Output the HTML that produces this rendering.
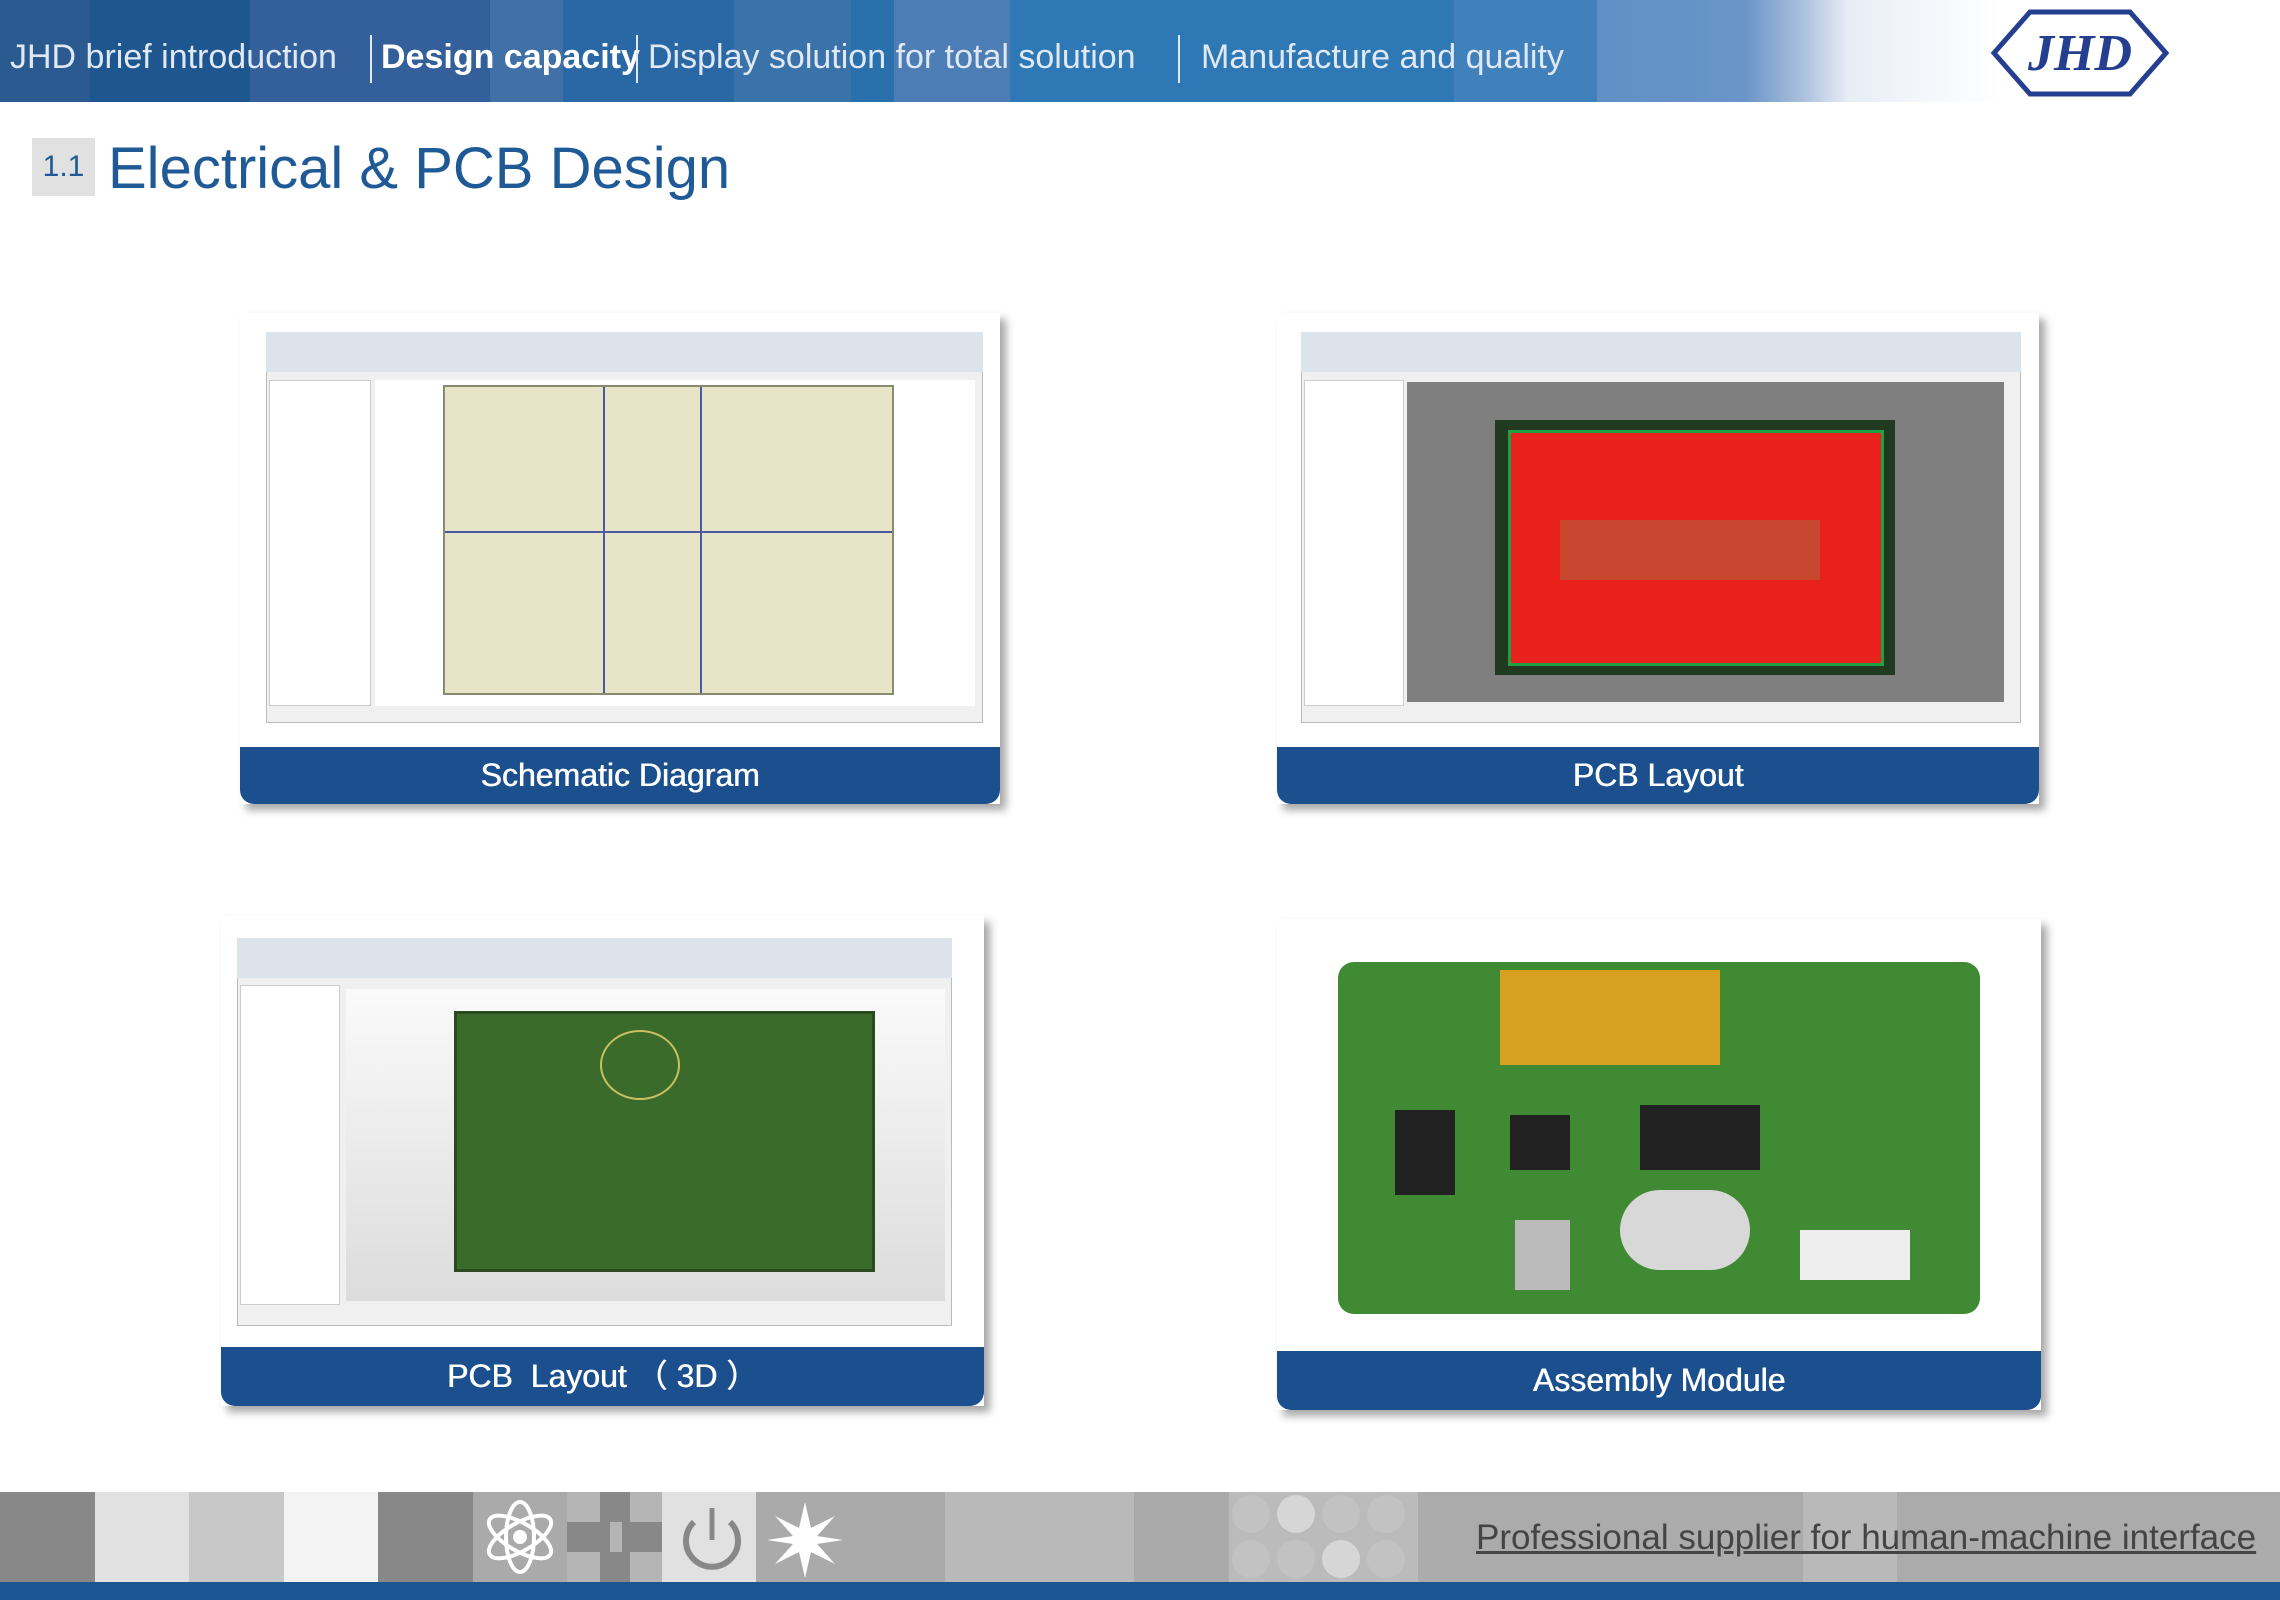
<!DOCTYPE html>
<html><head><meta charset="utf-8"><style>
*{margin:0;padding:0;box-sizing:border-box}
body{width:2280px;height:1600px;position:relative;overflow:hidden;background:#fff;font-family:"Liberation Sans",sans-serif}
.a{position:absolute}
.hdr{left:0;top:0;width:2280px;height:102px;background:linear-gradient(90deg,#2a5a90 0,#2a5a90 90px,#1e5690 90px,#1e5690 250px,#33609a 250px,#33609a 490px,#4070a5 490px,#4070a5 563px,#2a68a5 563px,#2a68a5 734px,#3a72aa 734px,#3a72aa 851px,#2a70ac 851px,#2a70ac 894px,#4c7db5 894px,#4c7db5 1010px,#2e78b5 1010px,#2e78b5 1454px,#4080bb 1454px,#4080bb 1597px,#6090c5 1597px,#6a95c8 1745px,#a8bedd 1800px,#e8eef6 1850px,#fff 2000px)}
.nav{top:38px;color:#dfe8f3;font-size:34px;white-space:nowrap}
.sep{top:35px;width:2px;height:48px;background:#dfe8f3}
.card{background:#fff;box-shadow:6px 6px 8px rgba(0,0,0,.35)}
.lbl{background:#1b4f8e;color:#fff;font-size:32px;text-align:center;border-radius:0 0 14px 14px;border-top:2px solid #fff;text-shadow:0.6px 0 0 #fff}
.win{background:#f0f0f0;border:1px solid #bbb}
</style></head><body>
<div class="a hdr"></div>
<div class="a nav" style="left:10px">JHD brief introduction</div>
<div class="a sep" style="left:370px"></div>
<div class="a nav" style="left:381px;color:#fff;font-weight:bold">Design capacity</div>
<div class="a sep" style="left:636px"></div>
<div class="a nav" style="left:648px">Display solution for total solution</div>
<div class="a sep" style="left:1178px"></div>
<div class="a nav" style="left:1201px">Manufacture and quality</div>
<svg class="a" style="left:1990px;top:8px" width="180" height="90" viewBox="0 0 180 90">
<polygon points="40,4 140,4 176,45 140,86 40,86 4,45" fill="none" stroke="#243f8f" stroke-width="5"/>
<text x="90" y="62" font-family="Liberation Serif" font-style="italic" font-weight="bold" font-size="52" fill="#243f8f" text-anchor="middle">JHD</text>
</svg>
<div class="a" style="left:32px;top:138px;width:63px;height:58px;background:#e0e1e0;color:#1f5a96;font-size:30px;text-align:center;line-height:58px">1.1</div>
<div class="a" style="left:108px;top:135px;color:#1f5a96;font-size:58px">Electrical &amp; PCB Design</div>

<!-- Card 1 -->
<div class="a card" style="left:240px;top:313px;width:760px;height:491px"></div>
<div class="a win" style="left:266px;top:332px;width:717px;height:391px"></div>
<div class="a" style="left:266px;top:332px;width:717px;height:40px;background:#dde3ea"></div>
<div class="a" style="left:269px;top:380px;width:102px;height:326px;background:#fff;border:1px solid #ccc"></div>
<div class="a" style="left:375px;top:380px;width:600px;height:326px;background:#fff"></div>
<div class="a" style="left:443px;top:385px;width:451px;height:310px;background:#e7e4c8;border:2px solid #8a8a70;background-image:linear-gradient(90deg,transparent 158px,#4a5aa0 158px,#4a5aa0 160px,transparent 160px,transparent 255px,#4a5aa0 255px,#4a5aa0 257px,transparent 257px),linear-gradient(0deg,transparent 160px,#4a5aa0 160px,#4a5aa0 162px,transparent 162px)"></div>
<div class="a lbl" style="left:240px;top:745px;width:760px;height:59px;line-height:56px">Schematic Diagram</div>

<!-- Card 2 -->
<div class="a card" style="left:1277px;top:313px;width:762px;height:491px"></div>
<div class="a win" style="left:1301px;top:332px;width:720px;height:391px"></div>
<div class="a" style="left:1301px;top:332px;width:720px;height:40px;background:#dde3ea"></div>
<div class="a" style="left:1304px;top:380px;width:100px;height:326px;background:#fff;border:1px solid #ccc"></div>
<div class="a" style="left:1407px;top:382px;width:597px;height:320px;background:#7f7f7f"></div>
<div class="a" style="left:1495px;top:420px;width:400px;height:255px;background:#1f3a1f"></div>
<div class="a" style="left:1508px;top:430px;width:376px;height:236px;background:#e8211c;border:3px solid #20a040"></div>
<div class="a" style="left:1560px;top:520px;width:260px;height:60px;background:#b06040;opacity:.6"></div>
<div class="a lbl" style="left:1277px;top:745px;width:762px;height:59px;line-height:56px">PCB Layout</div>

<!-- Card 3 -->
<div class="a card" style="left:221px;top:916px;width:763px;height:490px"></div>
<div class="a win" style="left:237px;top:938px;width:715px;height:388px"></div>
<div class="a" style="left:237px;top:938px;width:715px;height:40px;background:#dde3ea"></div>
<div class="a" style="left:240px;top:985px;width:100px;height:320px;background:#fff;border:1px solid #ccc"></div>
<div class="a" style="left:346px;top:989px;width:599px;height:312px;background:linear-gradient(#fafafa,#dcdcdc)"></div>
<div class="a" style="left:454px;top:1011px;width:421px;height:261px;background:#3b6b2a;border:3px solid #2a4a20"></div>
<div class="a" style="left:600px;top:1030px;width:80px;height:70px;border:2px solid #c8c060;border-radius:50%"></div>
<div class="a lbl" style="left:221px;top:1345px;width:763px;height:61px;line-height:58px">PCB&nbsp; Layout （ 3D ）</div>

<!-- Card 4 -->
<div class="a card" style="left:1277px;top:919px;width:764px;height:491px"></div>
<div class="a" style="left:1338px;top:962px;width:642px;height:352px;background:#3f8a32;border-radius:16px"></div>
<div class="a" style="left:1500px;top:970px;width:220px;height:95px;background:#d8a020"></div>
<div class="a" style="left:1395px;top:1110px;width:60px;height:85px;background:#222"></div>
<div class="a" style="left:1510px;top:1115px;width:60px;height:55px;background:#222"></div>
<div class="a" style="left:1640px;top:1105px;width:120px;height:65px;background:#222"></div>
<div class="a" style="left:1620px;top:1190px;width:130px;height:80px;background:#d8d8d8;border-radius:40px"></div>
<div class="a" style="left:1515px;top:1220px;width:55px;height:70px;background:#bbb"></div>
<div class="a" style="left:1800px;top:1230px;width:110px;height:50px;background:#eee"></div>
<div class="a lbl" style="left:1277px;top:1349px;width:764px;height:61px;line-height:58px">Assembly Module</div>

<!-- Footer -->
<div class="a" style="left:0;top:1492px;width:2280px;height:90px;background:linear-gradient(90deg,#888 0,#888 95px,#e0e1e0 95px,#e0e1e0 189px,#c8c8c8 189px,#c8c8c8 284px,#f2f3f2 284px,#f2f3f2 378px,#878887 378px,#878887 473px,#a9aaa9 473px,#a9aaa9 567px,#b5b5b5 567px,#b5b5b5 662px,#e0e1e0 662px,#e0e1e0 756px,#aaa 756px,#aaa 945px,#b9b9b9 945px,#b9b9b9 1134px,#aaa 1134px,#aaa 1229px,#bbb 1229px,#bbb 1418px,#aaabaa 1418px,#aaabaa 1803px,#b9b9b9 1803px,#b9b9b9 1897px,#aaabaa 1897px)"></div>
<div class="a" style="left:600px;top:1492px;width:30px;height:90px;background:#888"></div>
<div class="a" style="left:567px;top:1522px;width:95px;height:30px;background:#888"></div>
<div class="a" style="left:610px;top:1522px;width:12px;height:30px;background:#b5b5b5"></div>
<svg class="a" style="left:480px;top:1497px" width="80" height="80"><g fill="none" stroke="#fff" stroke-width="4"><ellipse cx="40" cy="40" rx="14" ry="35"/><ellipse cx="40" cy="40" rx="14" ry="35" transform="rotate(60 40 40)"/><ellipse cx="40" cy="40" rx="14" ry="35" transform="rotate(-60 40 40)"/></g><circle cx="40" cy="40" r="7" fill="#fff"/></svg>
<svg class="a" style="left:672px;top:1500px" width="80" height="80"><path d="M22 22 A26 26 0 1 0 58 22" fill="none" stroke="#888" stroke-width="6"/><line x1="40" y1="8" x2="40" y2="40" stroke="#888" stroke-width="5"/></svg>
<svg class="a" style="left:765px;top:1500px" width="80" height="80"><polygon points="40,2 46,28 70,16 52,36 78,40 52,44 70,64 46,52 40,78 34,52 10,64 28,44 2,40 28,36 10,16 34,28" fill="#fff"/></svg>
<svg class="a" style="left:1229px;top:1492px" width="189" height="90"><g fill="#c2c2c2"><ellipse cx="22" cy="22" rx="19" ry="19"/><ellipse cx="67" cy="22" rx="19" ry="19" fill="#d6d6d6"/><ellipse cx="112" cy="22" rx="19" ry="19"/><ellipse cx="157" cy="22" rx="19" ry="19"/><ellipse cx="22" cy="67" rx="19" ry="19"/><ellipse cx="67" cy="67" rx="19" ry="19"/><ellipse cx="112" cy="67" rx="19" ry="19" fill="#d6d6d6"/><ellipse cx="157" cy="67" rx="19" ry="19"/></g></svg>
<div class="a" style="left:1476px;top:1518px;font-size:35px;color:#444;text-decoration:underline;white-space:nowrap">Professional supplier for human-machine interface</div>
<div class="a" style="left:0;top:1582px;width:2280px;height:18px;background:#1b5592"></div>
</body></html>
